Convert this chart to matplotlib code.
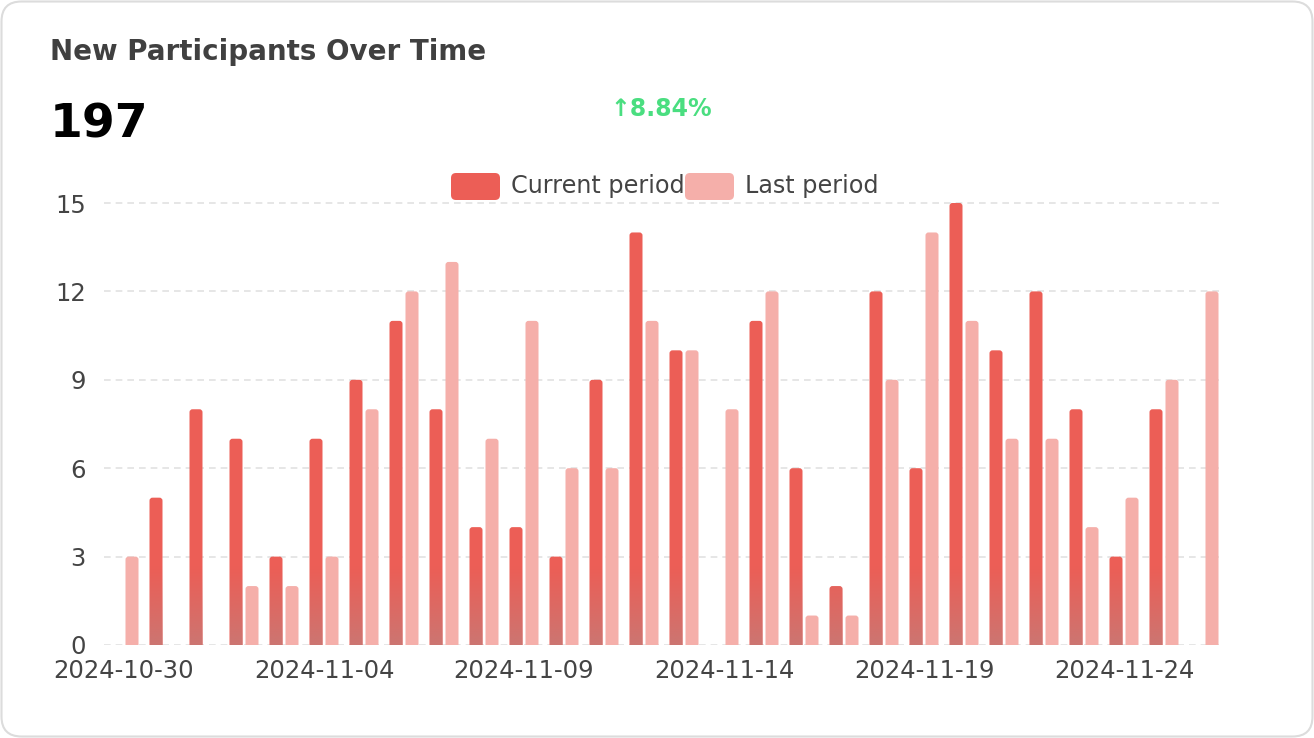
import numpy as np
import pandas as pd
import matplotlib
matplotlib.use("Agg")
import matplotlib.pyplot as plt
from matplotlib.patches import FancyBboxPatch
from matplotlib.transforms import IdentityTransform
from matplotlib.colors import to_rgb

plt.rcParams["font.family"] = ["DejaVu Sans"]

# ---- data ----
dates = pd.date_range("2024-10-30", "2024-11-26", freq="D")
current_period = [0, 5, 8, 7, 3, 7, 9, 11, 8, 4, 4, 3, 9, 14, 10, 0, 11, 6, 2, 12, 6, 15, 10, 12, 8, 3, 8, 0]
last_period = [3, 0, 0, 2, 2, 3, 8, 12, 13, 7, 11, 6, 6, 11, 10, 8, 12, 1, 1, 9, 14, 11, 7, 7, 4, 5, 9, 12]
y_ticks = [0, 3, 6, 9, 12, 15]
series_names = ["Current period", "Last period"]
total_value = "197"
change_text = "\u21918.84%"
title = "New Participants Over Time"

# ---- style ----
RED = "#ec5e56"
PINK = "#f5afaa"
SHADE = "#cc7672"
TXT = "#404040"
W, H = 1314, 738

fig = plt.figure(figsize=(W / 100, H / 100), dpi=100)
fig.patch.set_facecolor("white")

def fx(x):
    return x / W

def fy(y):
    return 1 - y / H

# card border (behind everything)
card = FancyBboxPatch((1.5, 1.5), W - 3, H - 3, boxstyle="round,pad=0,rounding_size=20",
                      transform=IdentityTransform(), fc="white", ec="#dcdcdc", lw=1.5, zorder=-5)
fig.add_artist(card)

# axes placed in pixels: x from 104 to 1224, y0 at 645, 15 at 203
px_per_unit = (645 - 203) / 15
ytop = 15.3
ax = fig.add_axes([fx(104), fy(645), 1120 / W, (ytop * px_per_unit) / H])
ax.set_facecolor("none")
ax.set_zorder(2)

x = np.arange(len(dates))
bw = 0.325
off = 0.2
rx = 3 / 40
asp = (3 / px_per_unit) / rx

# gradient overlay (dark at bottom, fading out)
n = 100
grad = np.zeros((n, 1, 4))
grad[:, 0, :3] = to_rgb(SHADE)
grad[:, 0, 3] = np.linspace(1, 0, n) ** 1.1
grad_h = 2.7

def rounded_bar(xc, h, color, shade=False):
    if h <= 0:
        return
    left = xc - bw / 2
    p = FancyBboxPatch((left, -0.3), bw, h + 0.3,
                       boxstyle=f"round,pad=0,rounding_size={rx}",
                       mutation_aspect=asp, fc=color, ec="none", zorder=2)
    ax.add_patch(p)
    if shade:
        im = ax.imshow(grad, extent=[left, left + bw, 0, grad_h], origin="lower",
                       aspect="auto", interpolation="bilinear", zorder=2.1)
        im.set_clip_path(p)

for i in range(len(dates)):
    rounded_bar(x[i] - off, current_period[i], RED, shade=True)
    rounded_bar(x[i] + off, last_period[i], PINK)

ax.set_xlim(-0.5, len(dates) - 0.5)
ax.set_ylim(0, ytop)
ax.set_yticks(y_ticks)
ax.set_xticks(x[::5])
ax.set_xticklabels([d.strftime("%Y-%m-%d") for d in dates[::5]])
ax.yaxis.grid(True, color="#e2e2e2", linestyle=(0, (4, 3)), lw=1.2)
ax.set_axisbelow(True)
for s in ax.spines.values():
    s.set_visible(False)
ax.tick_params(axis="both", length=0, labelsize=17.5, colors="#444444")
ax.tick_params(axis="x", pad=10)
ax.tick_params(axis="y", pad=13)

# header texts
fig.text(fx(50), fy(60), title, fontsize=20, fontweight="bold", color=TXT, va="baseline")
fig.text(fx(50), fy(138), total_value, fontsize=34, fontweight="bold", color="black", va="baseline")
fig.text(fx(661), fy(116), change_text, fontsize=17, fontweight="bold", color="#4ade80",
         ha="center", va="baseline")

# legend drawn by hand
legend_boxes = [(451, RED), (685, PINK)]
for (lx, col), name in zip(legend_boxes, series_names):
    fig.add_artist(FancyBboxPatch((lx, H - 200), 49, 27, boxstyle="round,pad=0,rounding_size=5",
                                  transform=IdentityTransform(), fc=col, ec="none"))
    fig.text(fx(lx + 60), fy(186), name, fontsize=17.2, color="#444444", va="center")

fig.savefig("out.png", dpi=100, facecolor="white")
